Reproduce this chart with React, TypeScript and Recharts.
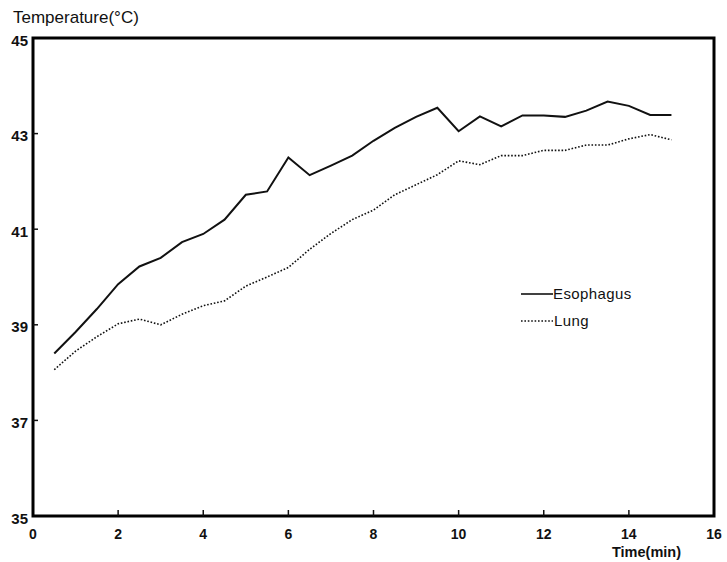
import React from "react";
import { LineChart, Line, XAxis, YAxis, ReferenceArea } from "recharts";

const times = [0.5, 1, 1.5, 2, 2.5, 3, 3.5, 4, 4.5, 5, 5.5, 6, 6.5, 7, 7.5, 8, 8.5, 9, 9.5, 10, 10.5, 11, 11.5, 12, 12.5, 13, 13.5, 14, 14.5, 15];
const esophagus = [38.4, 38.85, 39.33, 39.85, 40.22, 40.4, 40.73, 40.9, 41.2, 41.72, 41.79, 42.5, 42.13, 42.33, 42.54, 42.85, 43.12, 43.35, 43.54, 43.05, 43.36, 43.15, 43.38, 43.38, 43.35, 43.48, 43.67, 43.58, 43.39, 43.39];
const lung = [38.06, 38.45, 38.75, 39.02, 39.12, 39.0, 39.22, 39.4, 39.5, 39.81, 40.0, 40.2, 40.58, 40.91, 41.2, 41.4, 41.72, 41.93, 42.14, 42.43, 42.35, 42.54, 42.54, 42.65, 42.65, 42.76, 42.76, 42.89, 42.98, 42.87];
const xTicks = [0, 2, 4, 6, 8, 10, 12, 14, 16];
const yTicks = [35, 37, 39, 41, 43, 45];
const seriesNames = ["Esophagus", "Lung"];
const yTitle = "Temperature(°C)";
const xTitle = "Time(min)";

const data = times.map((t, i) => ({ t, esophagus: esophagus[i], lung: lung[i] }));

const FONT = "'Liberation Sans', Arial, sans-serif";
const INK = "#111";

const XTick = (props: any) => {
  const { x, y, payload } = props;
  const v = payload.value;
  const inner = v !== 0 && v !== 16;
  return (
    <g>
      {inner && <line x1={x} x2={x} y1={y} y2={y - 6} stroke={INK} strokeWidth={1.5} />}
      <text x={x} y={y + 23} textAnchor="middle" fontFamily={FONT} fontSize={14} fontWeight="bold" fill={INK}>
        {v}
      </text>
    </g>
  );
};

const YTick = (props: any) => {
  const { x, y, payload } = props;
  const v = payload.value;
  const inner = v !== 35 && v !== 45;
  return (
    <g>
      {inner && <line x1={x} x2={x + 5} y1={y} y2={y} stroke={INK} strokeWidth={1.5} />}
      <text x={x - 5} y={y + 7.5} textAnchor="end" fontFamily={FONT} fontSize={15} fontWeight="bold" fill={INK}>
        {v}
      </text>
    </g>
  );
};

export default function App() {
  return (
    <div style={{ position: "relative", width: 727, height: 562 }}>
      <style>{"body{margin:0}"}</style>
      <LineChart width={727} height={562} data={data} margin={{ top: 38, right: 13, bottom: 0, left: 0 }}>
        <XAxis
          dataKey="t"
          type="number"
          domain={[0, 16]}
          ticks={xTicks}
          interval={0}
          tickSize={0}
          tickMargin={0}
          axisLine={false}
          tickLine={false}
          height={46}
          tick={<XTick />}
        />
        <YAxis
          type="number"
          domain={[35, 45]}
          ticks={yTicks}
          interval={0}
          tickSize={0}
          tickMargin={0}
          axisLine={false}
          tickLine={false}
          width={33}
          tick={<YTick />}
        />
        <ReferenceArea x1={0} x2={16} y1={35} y2={45} fill="none" stroke="#000" strokeWidth={3} />
        <Line type="linear" dataKey="esophagus" name={seriesNames[0]} stroke={INK} strokeWidth={2} dot={false} isAnimationActive={false} />
        <Line type="linear" dataKey="lung" name={seriesNames[1]} stroke={INK} strokeWidth={1.6} strokeDasharray="1.6 1.8" dot={false} isAnimationActive={false} />
      </LineChart>
      <svg
        width={727}
        height={562}
        style={{ position: "absolute", left: 0, top: 0, pointerEvents: "none" }}
      >
        <text x={13} y={23} fontFamily={FONT} fontSize={17} fill={INK}>
          {yTitle}
        </text>
        <text x={612} y={557} fontFamily={FONT} fontSize={14.5} fontWeight="bold" fill={INK}>
          {xTitle}
        </text>
        <line x1={521} x2={553} y1={294} y2={294} stroke={INK} strokeWidth={1.6} />
        <text x={553} y={299} fontFamily={FONT} fontSize={15} letterSpacing={0.4} fill={INK}>
          {seriesNames[0]}
        </text>
        <line x1={521} x2={553} y1={321} y2={321} stroke={INK} strokeWidth={1.6} strokeDasharray="1.6 1.8" />
        <text x={554} y={326} fontFamily={FONT} fontSize={15} letterSpacing={0.4} fill={INK}>
          {seriesNames[1]}
        </text>
      </svg>
    </div>
  );
}
